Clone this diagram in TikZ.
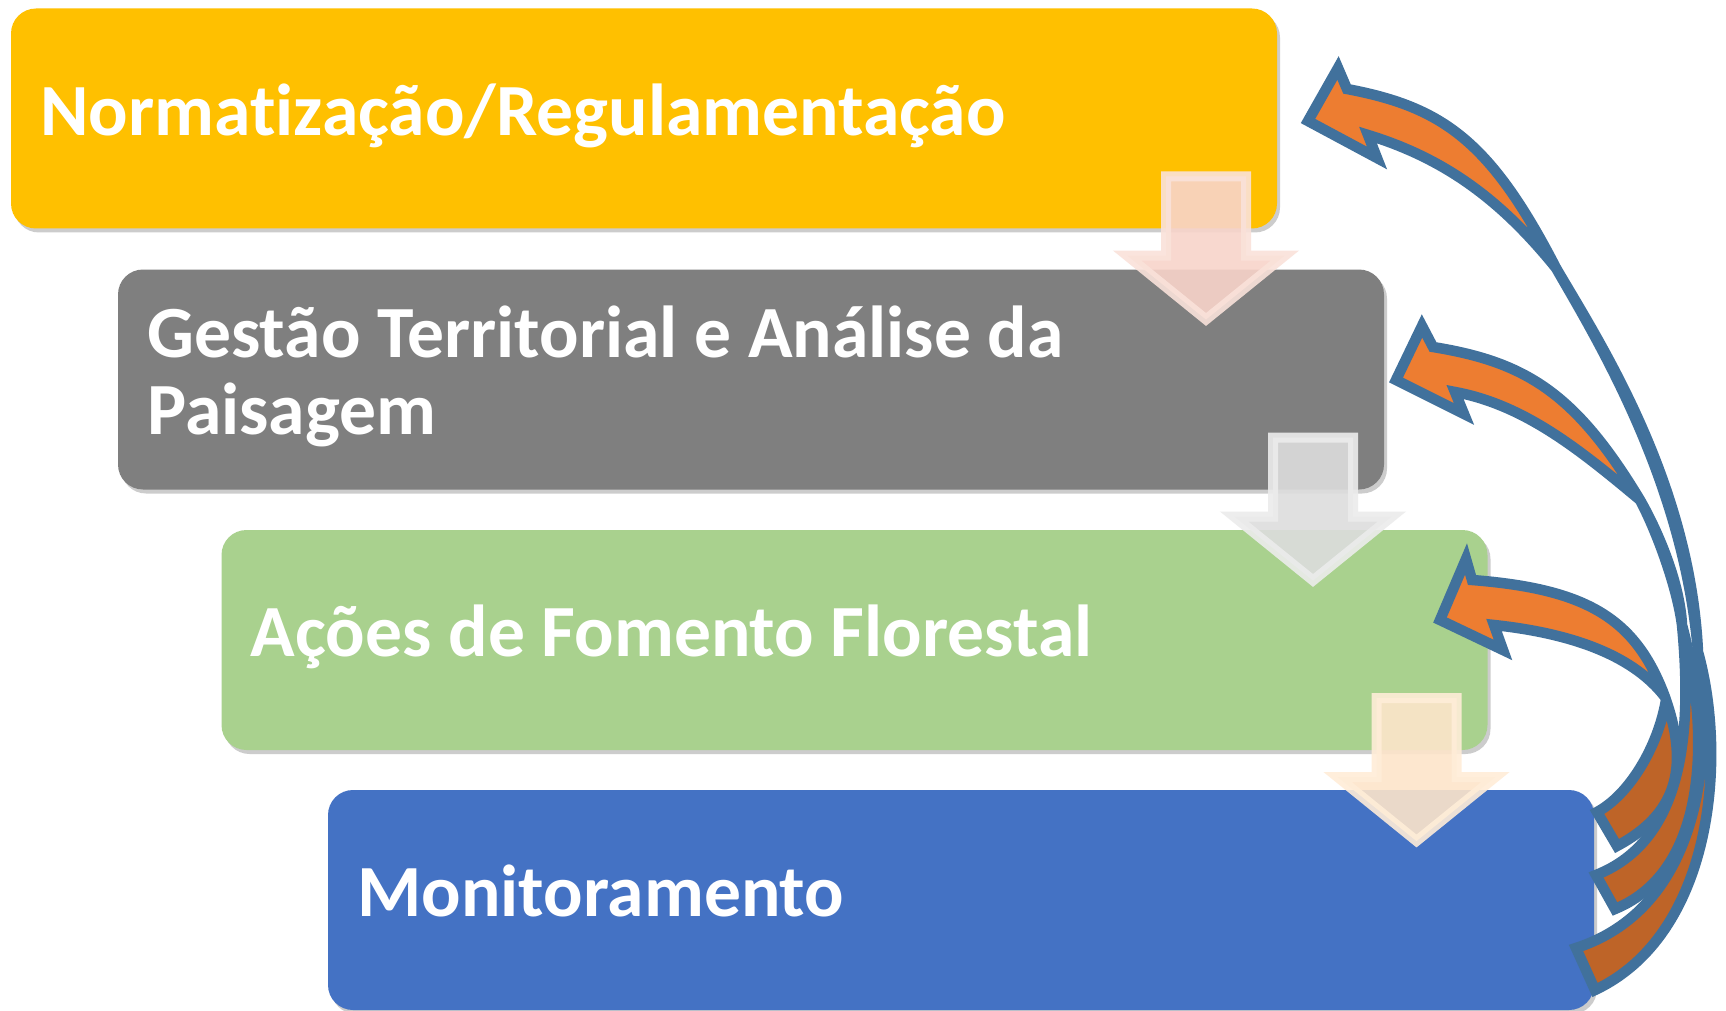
\documentclass[tikz,border=0pt]{standalone}
\usepackage{fontspec}
\setmainfont{Carlito}[Ligatures=NoCommon]
\usetikzlibrary{calc}
\usetikzlibrary{shadows}

\definecolor{normyellow}{HTML}{FFC000}
\definecolor{gestgray}{HTML}{7F7F7F}
\definecolor{acoesgreen}{HTML}{A9D18E}
\definecolor{monitblue}{HTML}{4472C4}
\definecolor{pinkfill}{RGB}{248,212,202}
\definecolor{pinkedge}{RGB}{250,226,218}
\definecolor{grayfill}{RGB}{221,221,221}
\definecolor{grayedge}{RGB}{236,236,236}
\definecolor{peachfill}{RGB}{253,229,202}
\definecolor{peachedge}{RGB}{255,237,216}
\definecolor{loopline}{HTML}{41719C}
\definecolor{loopfront}{HTML}{ED7D31}
\definecolor{loopback}{HTML}{BE6428}

\tikzset{
  stepbox/.style={rounded corners=12.5pt, minimum width=633pt, minimum height=110pt,
    inner sep=0pt, outer sep=0pt,
    drop shadow={shadow xshift=1.5pt, shadow yshift=-2pt, opacity=0.4}},
  steptext/.style={anchor=base west, inner sep=0pt, text=white,
    font=\fontsize{36.8}{38.75}\selectfont\bfseries},
  downarrow/.style={line width=5pt, line join=miter, opacity=0.9},
  loopedge/.style={draw=loopline, line width=5.25pt, line join=miter, miter limit=6},
}

% one curved feedback arrow from its named points
\newcommand{\feedbackloop}[1]{%
  \fill[loopback] (#1p2) .. controls (#1bo1) and (#1bo2) .. (#1b0) -- (#1b1)
    .. controls (#1bi2) and (#1bi1) .. (#1p2) -- cycle;
  \fill[loopfront] (#1p1) .. controls (#1fi2) and (#1fi1) .. (#1nl) -- (#1bl) -- (#1t)
    -- (#1bu) -- (#1nu) .. controls (#1fo1) and (#1fo2) .. (#1p1) -- cycle;
  \draw[loopedge] (#1b1) -- (#1b0) .. controls (#1bo2) and (#1bo1) .. (#1p2)
    .. controls (#1sr2) and (#1sr1) .. (#1p1) .. controls (#1fi2) and (#1fi1) .. (#1nl)
    -- (#1bl) -- (#1t) -- (#1bu) -- (#1nu) .. controls (#1fo1) and (#1fo2) .. (#1p1)
    .. controls (#1sl1) and (#1sl2) .. (#1p2) .. controls (#1bi1) and (#1bi2) .. (#1b1) -- cycle;
}

\begin{document}
\begin{tikzpicture}[x=0.5pt,y=-0.5pt]

        \fill[white] (0,0) rectangle (1726,1011);
        \useasboundingbox (0,0) rectangle (1726,1011);

        % Boxes
        \node[stepbox, fill=normyellow] (norma) at (644,118.5) {};
        \node[stepbox, fill=gestgray] (gestao) at (751,379.5) {};
        \node[stepbox, fill=acoesgreen] (acoes) at (854.5,640) {};
        \node[stepbox, fill=monitblue] (monit) at (961,900) {};

        % Texts
        \node[steptext] (normatxt) at ($(norma.north west)+(29,127)$) {Normatização/Regulamentação};
        \node[steptext] (gestaotxt) at ($(gestao.north west)+(29,88)$)
          {\vtop{\hbox{Gestão Territorial e Análise da}\hbox{Paisagem}}};
        \node[steptext] (acoestxt) at ($(acoes.north west)+(29,126)$) {Ações de Fomento Florestal};
        \node[steptext] (monittxt) at ($(monit.north west)+(29,126)$) {Monitoramento};

        % Down arrows
        \foreach \upper/\fillc/\edgec in {norma/pinkfill/pinkedge, gestao/grayfill/grayedge, acoes/peachfill/peachedge}
        {
          \coordinate (\upper-dn) at ($(\upper.south east)+(-71,0)$);
          \draw[downarrow, fill=\fillc, draw=\edgec] ($(\upper-dn)+(-40,-52)$) -- ($(\upper-dn)+(40,-52)$)
            -- ($(\upper-dn)+(40,27)$) -- ($(\upper-dn)+(79,27)$) -- ($(\upper-dn)+(0,91)$)
            -- ($(\upper-dn)+(-79,27)$) -- ($(\upper-dn)+(-40,27)$) -- cycle;
        }

        % Feedback arrow to Normatizacao
        \foreach \n/\x/\y in {t/1308/121, bu/1338/68, bl/1377/158, nu/1347/89, nl/1368/135,
          fo1/1442/107, fo2/1490/140, fi1/1450/160, fi2/1505/205, p1/1556/268,
          sr1/1598/340, sr2/1690/480, sl1/1595/336, sl2/1684/480, p2/1698/652,
          bo1/1728/760, bo2/1712/935, bi1/1712/740, bi2/1708/905, b0/1595/990, b1/1576/948}
          \coordinate (f1\n) at (\x,\y);
        \feedbackloop{f1}

        % Feedback arrow to Gestao
        \foreach \n/\x/\y in {t/1396/380, bu/1422/326, bl/1464/414, nu/1433/347, nl/1455/392,
          fo1/1525/362, fo2/1575/392, fi1/1525/405, fi2/1580/450, p1/1640/500,
          sr1/1660/535, sr2/1680/585, sl1/1657/532, sl2/1677/587, p2/1682/625,
          bo1/1710/730, bo2/1710/870, bi1/1692/730, bi2/1685/840, b0/1615/909, b1/1596/875}
          \coordinate (f2\n) at (\x,\y);
        \feedbackloop{f2}

        % Feedback arrow to Acoes
        \foreach \n/\x/\y in {t/1440/620, bu/1466/559, bl/1503/650, nu/1472/580, nl/1494/625,
          fo1/1588/589, fo2/1636/619, fi1/1578/634, fi2/1635/658, p1/1665/697,
          sr1/1665.3/698, sr2/1665.7/699, sl1/1665.3/698, sl2/1665.7/699, p2/1666/700,
          bo1/1690/770, bo2/1675/815, bi1/1658/747, bi2/1629/795, b0/1617/846, b1/1597/812}
          \coordinate (f3\n) at (\x,\y);
        \feedbackloop{f3}

\end{tikzpicture}
\end{document}
